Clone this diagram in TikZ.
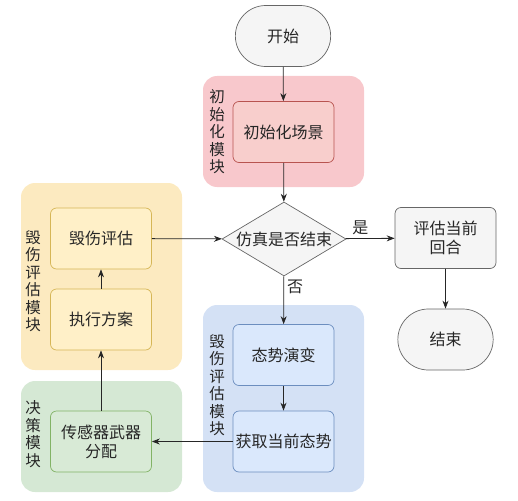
\documentclass[tikz,border=0pt]{standalone}
\usepackage{fontspec}
\setmainfont{Noto Sans CJK SC}
\usetikzlibrary{shapes.geometric,shapes.misc,arrows.meta}
\definecolor{grayfill}{HTML}{F5F5F5}
\definecolor{grayline}{HTML}{666666}
\definecolor{redouter}{HTML}{F8C8CC}
\definecolor{redfill}{HTML}{F8CECC}
\definecolor{redline}{HTML}{B85450}
\definecolor{yelouter}{HTML}{FCEAC0}
\definecolor{yelfill}{HTML}{FFF0C8}
\definecolor{yelline}{HTML}{D6B656}
\definecolor{grnouter}{HTML}{D5E8D4}
\definecolor{grnfill}{HTML}{D8EAD6}
\definecolor{grnline}{HTML}{82B366}
\definecolor{bluouter}{HTML}{D4E1F5}
\definecolor{blufill}{HTML}{DAE8FC}
\definecolor{bluline}{HTML}{6C8EBF}
\definecolor{txt}{HTML}{262626}
\tikzset{
  every node/.style={text=txt, font=\fontsize{16}{19}\selectfont},
  procbox/.style={rectangle, rounded corners=6pt, minimum width=101pt, minimum height=61pt, inner sep=1pt, align=center, line width=0.7pt},
  terminal/.style={rounded rectangle, minimum width=102pt, minimum height=61pt, fill=grayfill, draw=grayline, line width=0.7pt},
  decision/.style={diamond, aspect=1.68, inner sep=0pt, minimum width=124pt, minimum height=74pt, fill=grayfill, draw=grayline, line width=0.7pt},
  vlabel/.style={align=center, inner sep=0pt, font=\fontsize{15.5}{17.5}\selectfont},
  flow/.style={-{Stealth[length=8pt,width=6pt]}, line width=0.8pt, draw=txt},
}
\begin{document}
\begin{tikzpicture}[x=1pt,y=-1pt]
\useasboundingbox (0,0) rectangle (518,500);
% modules
\fill[redouter, rounded corners=14pt] (203,76) rectangle (364,187);
\fill[yelouter, rounded corners=14pt] (21,183) rectangle (182,370);
\fill[grnouter, rounded corners=14pt] (21,381) rectangle (182,492);
\fill[bluouter, rounded corners=14pt] (203,305) rectangle (364,492);
% module labels
\node[vlabel] (lred) at (217,132) {初\\始\\化\\模\\块};
\node[vlabel] (lyel) at (33,281) {毁\\伤\\评\\估\\模\\块};
\node[vlabel] (lgrn) at (33,434) {决\\策\\模\\块};
\node[vlabel] (lblu) at (217,385) {毁\\伤\\评\\估\\模\\块};
% nodes
\node[terminal] (start) at (283,36) {开始};
\node[procbox, fill=redfill, draw=redline] (init) at (283.5,132) {初始化场景};
\node[decision] (dec) at (284,239) {仿真是否结束};
\node[procbox, fill=grayfill, draw=grayline] (eval) at (445.5,238) {评估当前\\回合};
\node[terminal] (end) at (445.5,339.5) {结束};
\node[procbox, fill=blufill, draw=bluline] (evo) at (283.5,355) {态势演变};
\node[procbox, fill=blufill, draw=bluline] (get) at (283.5,441.5) {获取当前态势};
\node[procbox, fill=yelfill, draw=yelline] (dmg) at (101,238.5) {毁伤评估};
\node[procbox, fill=yelfill, draw=yelline] (exec) at (101,319.5) {执行方案};
\node[procbox, fill=grnfill, draw=grnline] (alloc) at (101,441.5) {传感器武器\\分配};
% connectors
\draw[flow] (start) -- (init);
\draw[flow] (init) -- (dec);
\draw[flow] (dec) -- node[pos=0.3, above, inner sep=3pt] (yes) {是} (eval);
\draw[flow] (dec) -- node[pos=0.22, right, inner sep=3pt] (no) {否} (evo);
\draw[flow] (eval) -- (end);
\draw[flow] (evo) -- (get);
\draw[flow] (get) -- (alloc);
\draw[flow] (alloc) -- (exec);
\draw[flow] (exec) -- (dmg);
\draw[flow] (dmg) -- (dec);
\end{tikzpicture}
\end{document}
